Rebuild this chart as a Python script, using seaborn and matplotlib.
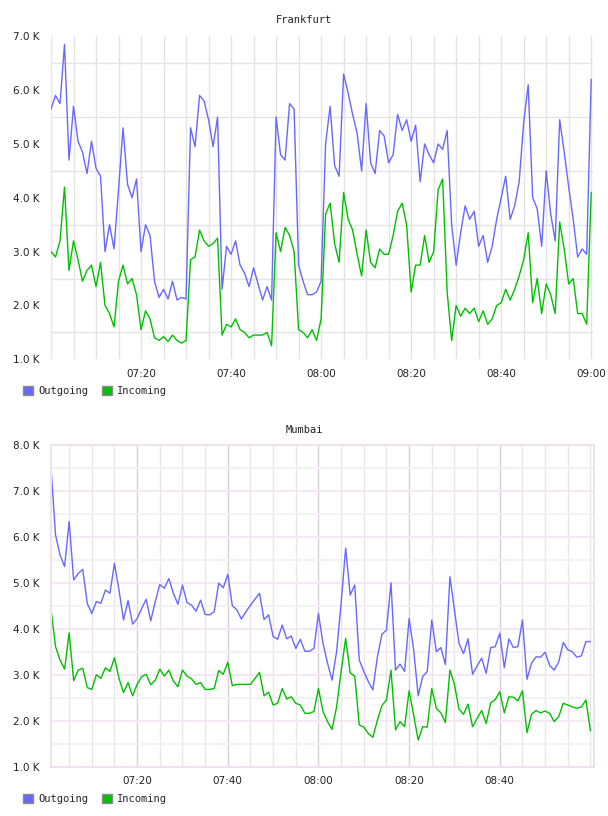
import numpy as np
import pandas as pd
import matplotlib
matplotlib.use("Agg")
import matplotlib.pyplot as plt
from matplotlib.patches import Patch
from matplotlib.ticker import FuncFormatter, MultipleLocator, FixedLocator
import seaborn as sns

# Frankfurt, one reading per minute from 07:00 to 09:00 (values in K)
frankfurt_outgoing = [
    5.65, 5.9, 5.75, 6.85, 4.7, 5.7, 5.05, 4.85, 4.45, 5.05,
    4.55, 4.4, 3.0, 3.5, 3.05, 4.15, 5.3, 4.25, 4.0, 4.35,
    3.0, 3.5, 3.3, 2.45, 2.15, 2.3, 2.12, 2.45, 2.1, 2.15,
    2.12, 5.3, 4.95, 5.9, 5.8, 5.45, 4.95, 5.5, 2.3, 3.1,
    2.95, 3.2, 2.75, 2.6, 2.35, 2.7, 2.4, 2.1, 2.35, 2.1,
    5.5, 4.8, 4.7, 5.75, 5.65, 2.75, 2.45, 2.2, 2.2, 2.25, 2.45,
    5.0, 5.7, 4.6, 4.4, 6.3, 5.95, 5.55, 5.2, 4.5, 5.75,
    4.65, 4.45, 5.25, 5.15, 4.65, 4.8, 5.55, 5.25, 5.45, 5.05,
    5.35, 4.3, 5.0, 4.8, 4.65, 5.0, 4.9, 5.25, 3.5, 2.75,
    3.35, 3.85, 3.6, 3.75, 3.1, 3.3, 2.8, 3.1, 3.6, 4.0,
    4.4, 3.6, 3.85, 4.3, 5.4, 6.1, 4.0, 3.8, 3.1, 4.5,
    3.7, 3.2, 5.45, 4.85, 4.2, 3.6, 2.9, 3.05, 2.95, 6.2,
]
frankfurt_incoming = [
    3.0, 2.9, 3.2, 4.2, 2.65, 3.2, 2.85, 2.45, 2.65, 2.75,
    2.35, 2.8, 2.0, 1.85, 1.6, 2.45, 2.75, 2.4, 2.5, 2.2,
    1.55, 1.9, 1.75, 1.4, 1.35, 1.42, 1.33, 1.45, 1.35, 1.3,
    1.35, 2.85, 2.9, 3.4, 3.2, 3.1, 3.15, 3.25, 1.45, 1.65,
    1.6, 1.75, 1.55, 1.5, 1.4, 1.45, 1.45, 1.45, 1.5, 1.25,
    3.35, 3.0, 3.45, 3.3, 3.0, 1.55, 1.5, 1.4, 1.55, 1.35, 1.75,
    3.7, 3.9, 3.15, 2.8, 4.1, 3.6, 3.4, 2.95, 2.55, 3.4,
    2.8, 2.7, 3.05, 2.95, 2.95, 3.3, 3.75, 3.9, 3.5, 2.25,
    2.75, 2.75, 3.3, 2.8, 3.0, 4.15, 4.35, 2.25, 1.35, 2.0,
    1.8, 1.95, 1.85, 1.95, 1.7, 1.9, 1.65, 1.75, 2.0, 2.05,
    2.3, 2.1, 2.3, 2.55, 2.85, 3.35, 2.05, 2.5, 1.85, 2.4,
    2.2, 1.85, 3.55, 3.05, 2.4, 2.5, 1.85, 1.85, 1.65, 4.1,
]

# Mumbai, one reading per minute from 07:01 to 09:00 (values in K)
mumbai_outgoing = [
    7.51, 6.04, 5.60, 5.35, 6.33, 5.06, 5.20, 5.29, 4.55, 4.33,
    4.59, 4.55, 4.84, 4.77, 5.42, 4.84, 4.19, 4.61, 4.10, 4.22,
    4.44, 4.64, 4.17, 4.59, 4.96, 4.88, 5.09, 4.77, 4.53, 4.95,
    4.57, 4.51, 4.38, 4.62, 4.31, 4.30, 4.37, 4.99, 4.89, 5.18,
    4.50, 4.41, 4.21, 4.37, 4.51, 4.64, 4.77, 4.20, 4.30, 3.83,
    3.77, 4.08, 3.78, 3.84, 3.57, 3.77, 3.51, 3.51, 3.57, 4.33,
    3.68, 3.25, 2.88, 3.50, 4.55, 5.75, 4.73, 4.95, 3.32, 3.07,
    2.85, 2.67, 3.39, 3.88, 3.97, 5.00, 3.10, 3.23, 3.07, 4.22,
    3.54, 2.54, 2.96, 3.07, 4.19, 3.50, 3.59, 3.22, 5.13, 4.41,
    3.68, 3.46, 3.78, 3.01, 3.19, 3.36, 3.03, 3.59, 3.61, 3.90,
    3.15, 3.78, 3.59, 3.61, 4.19, 2.90, 3.25, 3.39, 3.38, 3.49,
    3.20, 3.10, 3.28, 3.70, 3.54, 3.50, 3.38, 3.41, 3.72, 3.72,
]
mumbai_incoming = [
    4.42, 3.61, 3.32, 3.12, 3.91, 2.87, 3.10, 3.14, 2.72, 2.68,
    3.00, 2.92, 3.15, 3.07, 3.37, 2.92, 2.61, 2.83, 2.54, 2.79,
    2.96, 3.01, 2.78, 2.88, 3.12, 2.97, 3.10, 2.86, 2.74, 3.10,
    2.97, 2.91, 2.79, 2.83, 2.68, 2.68, 2.70, 3.09, 3.01, 3.27,
    2.76, 2.79, 2.79, 2.79, 2.79, 2.92, 3.05, 2.54, 2.62, 2.34,
    2.38, 2.70, 2.47, 2.52, 2.38, 2.34, 2.16, 2.16, 2.20, 2.70,
    2.20, 1.98, 1.81, 2.30, 3.07, 3.79, 3.04, 2.97, 1.91, 1.86,
    1.72, 1.64, 2.01, 2.33, 2.45, 3.10, 1.80, 1.98, 1.87, 2.65,
    2.12, 1.58, 1.87, 1.86, 2.70, 2.27, 2.17, 1.96, 3.10, 2.79,
    2.25, 2.14, 2.36, 1.87, 2.05, 2.22, 1.94, 2.39, 2.46, 2.63,
    2.17, 2.52, 2.51, 2.43, 2.65, 1.74, 2.14, 2.22, 2.17, 2.21,
    2.16, 1.98, 2.09, 2.38, 2.34, 2.30, 2.27, 2.30, 2.45, 1.78,
]

frankfurt_start = "07:00"
mumbai_start = "07:01"
frankfurt_ticks = ["07:20", "07:40", "08:00", "08:20", "08:40", "09:00"]
mumbai_ticks = ["07:20", "07:40", "08:00", "08:20", "08:40"]
series_names = ["Outgoing", "Incoming"]
palette = {"Outgoing": "#6868ff", "Incoming": "#00c000"}


def to_minutes(hhmm):
    h, m = hhmm.split(":")
    return int(h) * 60 + int(m) - 7 * 60


def long_frame(start, outgoing, incoming):
    t0 = to_minutes(start)
    rows = []
    for name, vals in zip(series_names, [outgoing, incoming]):
        for i, v in enumerate(vals):
            rows.append((t0 + i, v, name))
    return pd.DataFrame(rows, columns=["minute", "value", "series"])


sns.set_style("white")
plt.rcParams["font.family"] = ["DejaVu Sans"]

W, H = 608, 816
fig = plt.figure(figsize=(W / 100, H / 100), dpi=100)


def px_axes(left, top, right, bottom):
    return fig.add_axes([left / W, 1 - bottom / H, (right - left) / W, (bottom - top) / H])


ax1 = px_axes(51, 36.3, 593, 359.3)
ax2 = px_axes(51, 444.7, 594.3, 766.7)

fmt = FuncFormatter(lambda v, _: f"{v:.1f} K")
mono = {"family": "DejaVu Sans Mono", "size": 7.5}

for ax, start, out, inc in [
    (ax1, frankfurt_start, frankfurt_outgoing, frankfurt_incoming),
    (ax2, mumbai_start, mumbai_outgoing, mumbai_incoming),
]:
    df = long_frame(start, out, inc)
    sns.lineplot(data=df, x="minute", y="value", hue="series", palette=palette,
                 estimator=None, legend=False, linewidth=1.0, ax=ax)
    ax.set_xlabel("")
    ax.set_ylabel("")
    ax.yaxis.set_major_formatter(fmt)
    ax.yaxis.set_minor_locator(MultipleLocator(0.5))
    ax.xaxis.set_minor_locator(MultipleLocator(5))
    ax.tick_params(which="both", length=0, labelsize=7.5, labelcolor="#222222")
    ax.tick_params(axis="y", pad=8)
    ax.tick_params(axis="x", pad=7)
    ax.set_axisbelow(True)

# Frankfurt: plain grey grid, no frame
ax1.set_xlim(0, 120.4)
ax1.set_ylim(1, 7)
ax1.set_yticks(range(1, 8))
ax1.xaxis.set_major_locator(FixedLocator([to_minutes(t) for t in frankfurt_ticks]))
ax1.set_xticklabels(frankfurt_ticks)
ax1.grid(which="both", axis="x", color="#e4e4e4", linewidth=1.0)
ax1.grid(which="minor", axis="y", color="#e4e4e4", linewidth=1.0)
ax1.grid(which="major", axis="y", visible=False)
for s in ax1.spines.values():
    s.set_visible(False)

# Mumbai: soft pinkish grid with frame
ax2.set_xlim(1, 120.85)
ax2.set_ylim(1, 8)
ax2.set_yticks(range(1, 9))
ax2.xaxis.set_major_locator(FixedLocator([to_minutes(t) for t in mumbai_ticks]))
ax2.set_xticklabels(mumbai_ticks)
ax2.grid(which="major", axis="x", color="#e0cce0", linewidth=1.0)
ax2.grid(which="minor", axis="x", color="#ebe5eb", linewidth=1.0)
ax2.grid(which="major", axis="y", color="#f3e8f3", linewidth=1.4)
ax2.grid(which="minor", axis="y", color="#f3f2f3", linewidth=1.4)
for s in ax2.spines.values():
    s.set_visible(True)
    s.set_color("#efe2ef")
    s.set_linewidth(1.5)

fig.text(0.5, 1 - 20 / H, "Frankfurt", ha="center", va="center", fontdict=mono, color="#222222")
fig.text(0.5, 1 - 430 / H, "Mumbai", ha="center", va="center", fontdict=mono, color="#222222")

handles = [Patch(facecolor=palette[n], edgecolor="#8a8a8a", linewidth=1.0) for n in series_names]
for y in [386, 794]:
    fig.legend(handles, series_names, loc="upper left", bbox_to_anchor=(23 / W, 1 - y / H),
               ncol=2, frameon=False, prop=mono, handlelength=0.95, handleheight=0.95,
               handletextpad=0.5, columnspacing=1.3, borderpad=0, borderaxespad=0)

fig.savefig("out.png", dpi=100)
